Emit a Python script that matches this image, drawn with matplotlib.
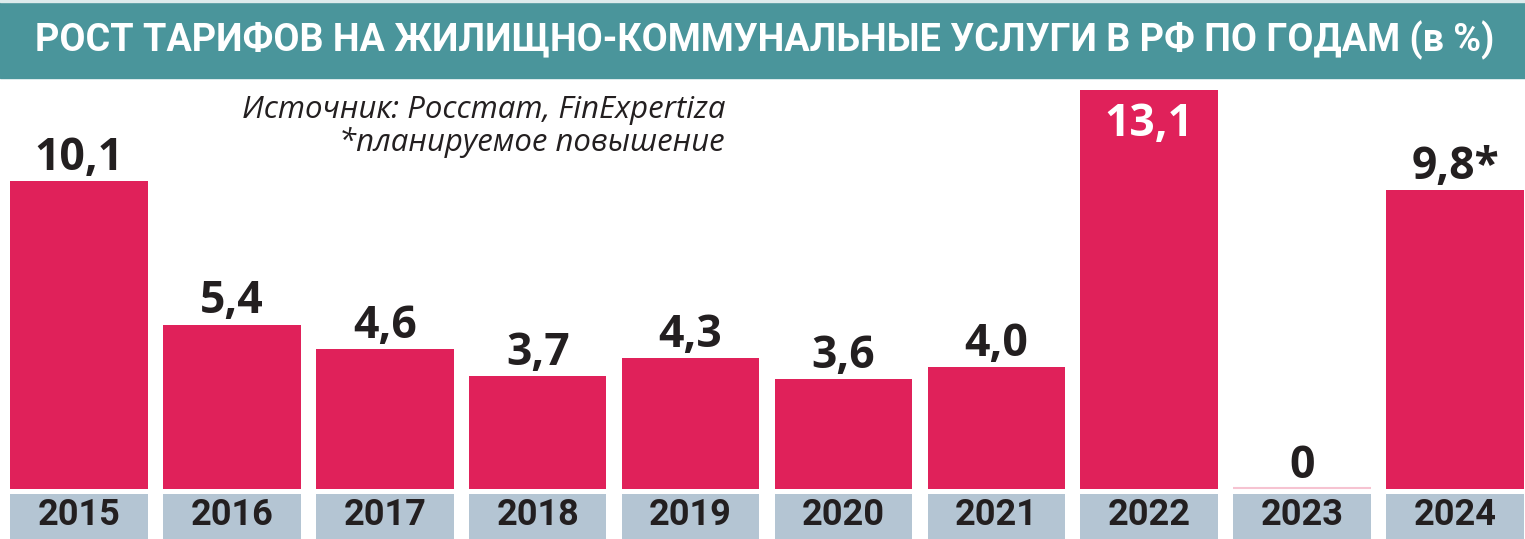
import matplotlib
matplotlib.use("Agg")
import matplotlib.pyplot as plt
from matplotlib import font_manager
from matplotlib.patches import Rectangle

# данные
years = ["2015", "2016", "2017", "2018", "2019", "2020", "2021", "2022", "2023", "2024"]
values = [10.1, 5.4, 4.6, 3.7, 4.3, 3.6, 4.0, 13.1, 0.0, 9.8]
labels = ["10,1", "5,4", "4,6", "3,7", "4,3", "3,6", "4,0", "13,1", "0", "9,8*"]
inside = [False, False, False, False, False, False, False, True, False, False]

title = "РОСТ ТАРИФОВ НА ЖИЛИЩНО-КОММУНАЛЬНЫЕ УСЛУГИ В РФ ПО ГОДАМ (в %)"
source_lines = ["Источник: Росстат, FinExpertiza", "*планируемое повышение"]

BAR = "#E0215A"
TEAL = "#4A959B"
YEARBOX = "#B4C5D3"


def pick(names):
    for n in names:
        try:
            font_manager.findfont(font_manager.FontProperties(family=n), fallback_to_default=False)
            return n
        except Exception:
            pass
    return "DejaVu Sans"


narrow = pick(["Liberation Sans Narrow", "Roboto", "Noto Sans"])
semib = pick(["Open Sans", "Noto Sans"])
ital = pick(["Open Sans", "Lato", "Noto Sans"])

W, H = 1525, 539
fig = plt.figure(figsize=(W / 100, H / 100), dpi=100)
fig.patch.set_facecolor("white")

# пиксельная геометрия
px_per_unit = 30.46
base_px = 489  # от верха
ax = fig.add_axes([0, 0, 1, 1])
ax.set_xlim(-79 / 152.9, 9 + 70 / 152.9)
ax.set_ylim(-(H - base_px) / px_per_unit, base_px / px_per_unit)
ax.axis("off")

x = list(range(len(years)))
ax.bar(x, values, width=0.9, color=BAR, linewidth=0)
for i, v in enumerate(values):
    if v == 0:
        ax.hlines(0.02, i - 0.45, i + 0.45, color="#F6C3D1", linewidth=1.5)

# плашки годов
box_top = -5 / px_per_unit
box_bot = -(H - base_px) / px_per_unit
ax.bar(x, box_top - box_bot, bottom=box_bot, width=0.9, color=YEARBOX, linewidth=0)
for i, y in enumerate(years):
    ax.text(i, -26 / px_per_unit, y, ha="center", va="center", fontsize=26,
            fontweight="bold", family=[narrow, "DejaVu Sans"], color="#231F20")

# подписи значений
for i, (v, lab) in enumerate(zip(values, labels)):
    if inside[i]:
        ax.annotate(lab, (i, v), xytext=(0, -33), textcoords="offset points",
                    ha="center", va="baseline", fontsize=32, fontweight="bold",
                    family=[semib, "DejaVu Sans"], color="white")
    else:
        ax.annotate(lab, (i, v), xytext=(0, 8), textcoords="offset points",
                    ha="center", va="baseline", fontsize=32, fontweight="bold",
                    family=[semib, "DejaVu Sans"], color="#231F20")

# шапка
fig.add_artist(Rectangle((0, 1 - 78 / H), 1, 76 / H, transform=fig.transFigure,
                         color=TEAL, zorder=0))
fig.add_artist(Rectangle((0, 1 - 2 / H), 1, 2 / H, transform=fig.transFigure,
                         color="#DDEBEC", zorder=0))
t = fig.text(765 / W, 1 - 40 / H, title, ha="center", va="center", color="white",
             fontsize=31, fontweight="bold", family=[narrow, "DejaVu Sans"])

s1 = fig.text(725 / W, 1 - 118 / H, source_lines[0], ha="right", va="baseline",
              fontsize=22, style="italic", family=[ital, "DejaVu Sans"], color="#231F20")
s2 = fig.text(725 / W, 1 - 151 / H, source_lines[1], ha="right", va="baseline",
              fontsize=22, style="italic", family=[ital, "DejaVu Sans"], color="#231F20")

# подгонка ширины шапки и источника
r = fig.canvas.get_renderer()
w = t.get_window_extent(r).width
t.set_fontsize(31 * 1460 / w)
w = s1.get_window_extent(r).width
fs = 22 * 482 / w
s1.set_fontsize(fs)
s2.set_fontsize(fs)

fig.savefig("out.png", dpi=100)
